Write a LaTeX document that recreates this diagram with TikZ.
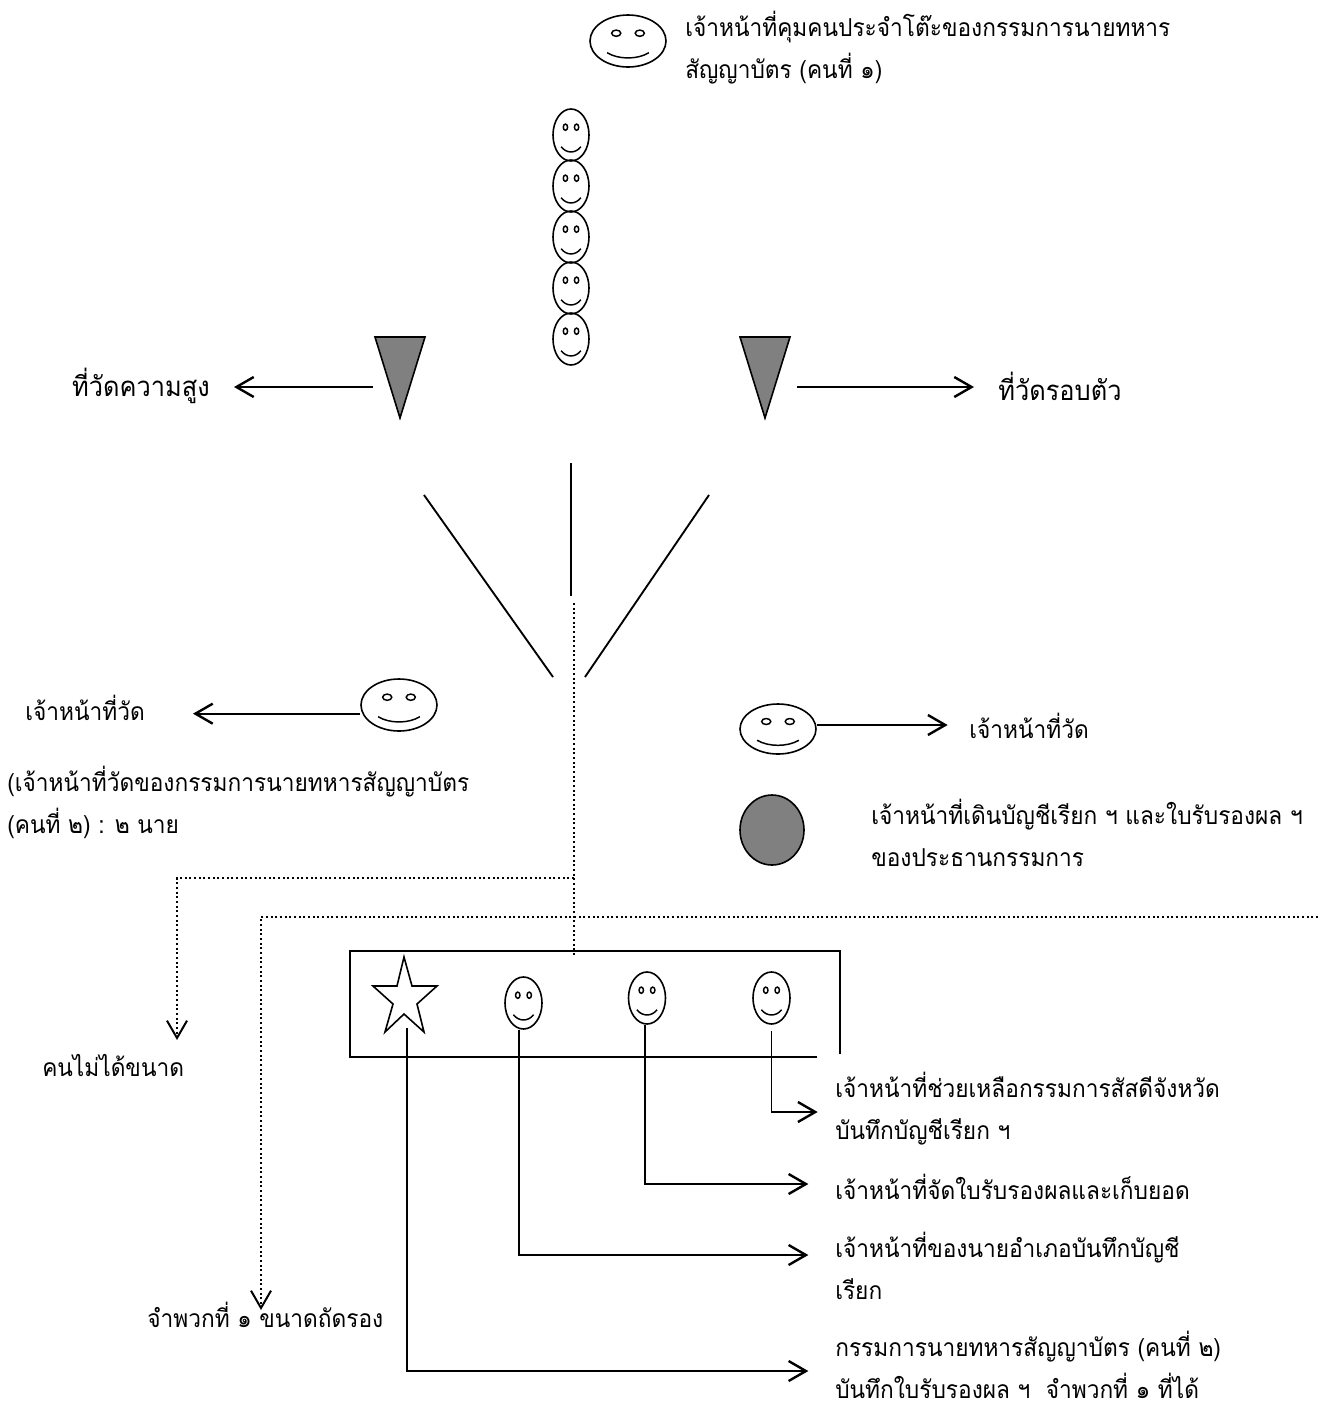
\documentclass[tikz,border=0pt]{standalone}
\usepackage{fontspec}
\newfontfamily\thaifont[Script=Thai,FakeStretch=0.92]{Loma}
\usepackage{tikz}
\usetikzlibrary{shapes.geometric,arrows.meta}

\tikzset{
	lab/.style={font=\thaifont\fontsize{18.5}{31.5}\selectfont,align=left,inner sep=0pt},
	biglab/.style={font=\thaifont\fontsize{20.7}{31.5}\selectfont,inner sep=0pt},
	link/.style={line width=1.4pt},
	tip/.style={link,-{Straight Barb[length=13pt,width=15pt,line width=1.8pt]}},
	dots/.style={line width=1.5pt,dotted},
	dotstip/.style={dots,-{Straight Barb[length=13pt,width=15pt,line width=1.5pt]}},
	cut/.style={line width=1.2pt,fill=gray}
}
% name, x, y, half width, half height
\newcommand{\face}[5]{
	\node[ellipse,draw,line width=1.2pt,inner sep=0pt,minimum width={#4*1.5pt},minimum height={#5*1.5pt}] (#1) at (#2,#3) {};
	\begin{scope}[shift={(#2,#3)},xscale=#4,yscale=#5,line width=1.1pt]
		\draw (-.31,-.3) circle (.12);
		\draw (.31,-.3) circle (.12);
		\draw (-.55,.45) .. controls (-.25,.72) and (.25,.72) .. (.55,.45);
	\end{scope}
}

\begin{document}
\begin{tikzpicture}[x=.75pt,y=-.75pt]
	\useasboundingbox (0,0) rectangle (1329,1403);
	% top of the hall
	\face{guard}{628}{41}{38}{26}
	\node[lab,anchor=north west] (guardlab) at (685,11) {เจ้าหน้าที่คุมคนประจำโต๊ะของกรรมการนายทหาร\\สัญญาบัตร (คนที่ ๑)};
	\foreach \n/\y in {1/135,2/186,3/237,4/288,5/339}{
		\face{queue\n}{571}{\y}{18}{26}
	}
	% the two gauges
	\draw[cut] (375,337)--(425,337)--(400,418)--cycle;
	\draw[cut] (740,337)--(790,337)--(765,418)--cycle;
	\coordinate (gaugeL) at (373,387);
	\coordinate (gaugeR) at (797,387);
	\node[biglab,anchor=east] (heightlab) at (210,386) {ที่วัดความสูง};
	\node[biglab,anchor=west] (roundlab) at (998,386) {ที่วัดรอบตัว};
	\draw[tip,shorten >=18pt] (gaugeL) -- (gaugeL -| heightlab.east);
	\draw[tip,shorten >=18pt] (gaugeR) -- (gaugeR -| roundlab.west);
	% the three lanes
	\coordinate (laneA) at (424,495);
	\coordinate (laneB) at (553,677);
	\coordinate (laneC) at (571,463);
	\coordinate (laneD) at (571,596);
	\coordinate (laneE) at (709,495);
	\coordinate (laneF) at (585,677);
	\draw[link] (laneA)--(laneB);
	\draw[link] (laneC)--(laneD);
	\draw[link] (laneE)--(laneF);
	% measuring officers
	\face{measureL}{399}{705}{38}{26}
	\node[lab,anchor=west] (measureLlab) at (25,708) {เจ้าหน้าที่วัด};
	\node[lab,anchor=north west] (measureLnote) at (7,766) {(เจ้าหน้าที่วัดของกรรมการนายทหารสัญญาบัตร\\(คนที่ ๒) : ๒ นาย};
	\draw[tip,shorten >=36pt] ([yshift=-6.5pt]measureL.west) -- ([yshift=-6.5pt]measureL.west -| measureLlab.east);
	\face{measureR}{778}{729}{38}{25}
	\node[lab,anchor=west] (measureRlab) at (969,726) {เจ้าหน้าที่วัด};
	\draw[tip,shorten >=16pt] ([yshift=3pt]measureR.east) -- ([yshift=3pt]measureR.east -| measureRlab.west);
	\node[ellipse,draw,cut,inner sep=0pt,minimum width=48pt,minimum height=52.5pt] (clerk) at (772,830) {};
	\node[lab,anchor=north west] (clerklab) at (871,799) {เจ้าหน้าที่เดินบัญชีเรียก ฯ และใบรับรองผล ฯ\\ของประธานกรรมการ};
	% dotted routes
	\coordinate (routeTop) at (574,603);
	\coordinate (routeFoot) at (574,956);
	\coordinate (routeFork) at (574,878);
	\coordinate (routeEdge) at (1318,917);
	\coordinate (unfittip) at (177,1040);
	\coordinate (classtip) at (261,1310);
	\node[lab,anchor=west] (unfitlab) at (42,1065) {คนไม่ได้ขนาด};
	\node[lab,anchor=west] (classlab) at (147,1315) {จำพวกที่ ๑ ขนาดถัดรอง};
	\draw[dots] (routeTop)--(routeFoot);
	\draw[dotstip] (routeFork) -| (unfittip);
	\draw[dotstip] (routeEdge) -| (classtip);
	% the table
	\draw[link] (817,1057)--(350,1057)--(350,951)--(840,951)--(840,1054);
	\draw[line width=1.2pt] (404,957)--(412,986)--(437,986)--(417,1004)--(424,1032)--(404,1014)--(385,1032)--(393,1004)--(373,986)--(397,986)--cycle;
	\coordinate (starfoot) at (407,1028);
	\face{writerA}{523.5}{1003}{18.5}{26}
	\face{writerB}{647}{998}{18.5}{26}
	\face{writerC}{771.5}{998}{18.5}{26}
	\node[lab,anchor=west] (writerClab) at (835,1109) {เจ้าหน้าที่ช่วยเหลือกรรมการสัสดีจังหวัด\\บันทึกบัญชีเรียก ฯ};
	\node[lab,anchor=west] (writerBlab) at (835,1187) {เจ้าหน้าที่จัดใบรับรองผลและเก็บยอด};
	\node[lab,anchor=west] (writerAlab) at (835,1266) {เจ้าหน้าที่ของนายอำเภอบันทึกบัญชี\\เรียก};
	\node[lab,anchor=west] (starlab) at (835,1365) {กรรมการนายทหารสัญญาบัตร (คนที่ ๒)\\บันทึกใบรับรองผล ฯ\ \ จำพวกที่ ๑ ที่ได้};
	\draw[tip,shorten >=13pt] ([yshift=-5pt]writerC.south) |- ([yshift=-2.25pt]writerClab.west);
	\draw[tip,shorten >=20pt] ([xshift=-1.5pt]writerB.south) |- ([yshift=2.25pt]writerBlab.west);
	\draw[tip,shorten >=20pt] ([xshift=-3.4pt]writerA.south) |- ([yshift=8.25pt]writerAlab.west);
	\draw[tip,shorten >=20pt] (starfoot) |- ([yshift=-4.5pt]starlab.west);
\end{tikzpicture}
\end{document}
